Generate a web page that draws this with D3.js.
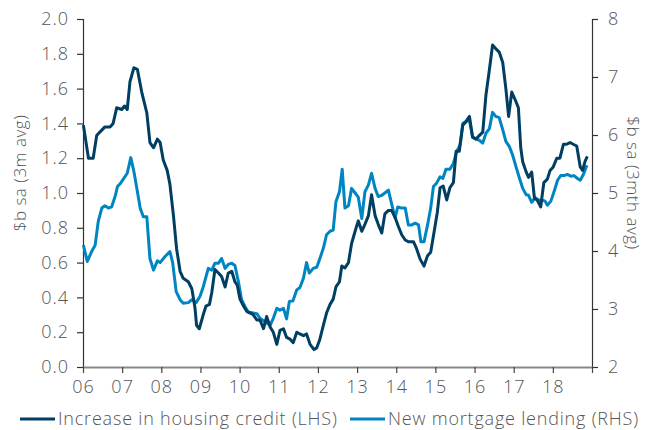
<!DOCTYPE html>
<html>
<head>
<meta charset="utf-8">
<script src="https://cdnjs.cloudflare.com/ajax/libs/d3/7.8.5/d3.min.js"></script>
<style>
  html, body { margin: 0; padding: 0; background: #fff; }
  svg { display: block; }
  text { font-family: "Open Sans", "DejaVu Sans", sans-serif; font-weight: 300; fill: #555; }
</style>
</head>
<body>
<div id="chart"></div>
<script>
// Housing credit vs new mortgage lending, 2006-2018

// [decimal year, $b sa 3m avg], LHS
const creditSeries = [
  [2006.01, 1.39], [2006.14, 1.20], [2006.26, 1.20], [2006.35, 1.33], [2006.43, 1.35],
  [2006.56, 1.38], [2006.69, 1.38], [2006.77, 1.40], [2006.86, 1.49], [2006.99, 1.48],
  [2007.06, 1.50], [2007.13, 1.48], [2007.20, 1.64], [2007.30, 1.72], [2007.39, 1.71],
  [2007.50, 1.58], [2007.63, 1.46], [2007.71, 1.29], [2007.80, 1.26], [2007.90, 1.31],
  [2007.97, 1.29], [2008.05, 1.19], [2008.15, 1.13], [2008.22, 1.05], [2008.31, 0.87],
  [2008.39, 0.68], [2008.48, 0.55], [2008.56, 0.51], [2008.69, 0.49], [2008.78, 0.45],
  [2008.86, 0.34], [2008.90, 0.24], [2008.97, 0.22], [2009.07, 0.30], [2009.14, 0.35],
  [2009.23, 0.36], [2009.29, 0.43], [2009.37, 0.56], [2009.46, 0.54], [2009.54, 0.52],
  [2009.63, 0.46], [2009.71, 0.54], [2009.80, 0.55], [2009.88, 0.49], [2009.94, 0.47],
  [2010.01, 0.39], [2010.10, 0.35], [2010.18, 0.32], [2010.27, 0.31], [2010.35, 0.30],
  [2010.44, 0.27], [2010.52, 0.27], [2010.61, 0.22], [2010.69, 0.29], [2010.78, 0.23],
  [2010.86, 0.20], [2010.95, 0.13], [2011.03, 0.21], [2011.12, 0.22], [2011.20, 0.17],
  [2011.29, 0.16], [2011.37, 0.14], [2011.46, 0.20], [2011.54, 0.19], [2011.63, 0.18],
  [2011.71, 0.19], [2011.80, 0.13], [2011.90, 0.10], [2011.97, 0.11], [2012.05, 0.16],
  [2012.14, 0.24], [2012.22, 0.31], [2012.31, 0.36], [2012.39, 0.39], [2012.46, 0.46],
  [2012.55, 0.49], [2012.61, 0.58], [2012.69, 0.57], [2012.78, 0.60], [2012.86, 0.71],
  [2012.95, 0.78], [2013.03, 0.84], [2013.12, 0.78], [2013.20, 0.82], [2013.29, 0.87],
  [2013.37, 0.99], [2013.46, 0.87], [2013.54, 0.82], [2013.63, 0.77], [2013.71, 0.88],
  [2013.80, 0.90], [2013.88, 0.90], [2013.97, 0.86], [2014.05, 0.81], [2014.14, 0.76],
  [2014.23, 0.73], [2014.31, 0.72], [2014.44, 0.72], [2014.52, 0.68], [2014.61, 0.62],
  [2014.71, 0.58], [2014.80, 0.64], [2014.88, 0.66], [2014.97, 0.78], [2015.05, 0.89],
  [2015.12, 1.03], [2015.20, 1.04], [2015.29, 0.96], [2015.37, 1.03], [2015.46, 1.06],
  [2015.53, 1.24], [2015.61, 1.24], [2015.70, 1.39], [2015.78, 1.41], [2015.87, 1.44],
  [2015.95, 1.32], [2016.04, 1.31], [2016.12, 1.33], [2016.21, 1.35], [2016.29, 1.56],
  [2016.38, 1.71], [2016.46, 1.85], [2016.54, 1.83], [2016.63, 1.81], [2016.72, 1.75],
  [2016.80, 1.60], [2016.87, 1.44], [2016.95, 1.58], [2017.03, 1.54], [2017.12, 1.49],
  [2017.18, 1.26], [2017.23, 1.18], [2017.32, 1.12], [2017.38, 1.09], [2017.46, 1.12],
  [2017.53, 0.97], [2017.60, 0.96], [2017.69, 0.92], [2017.77, 1.06], [2017.86, 1.08],
  [2017.93, 1.13], [2018.01, 1.15], [2018.10, 1.20], [2018.18, 1.20], [2018.27, 1.28],
  [2018.35, 1.28], [2018.44, 1.29], [2018.52, 1.28], [2018.61, 1.27], [2018.70, 1.15],
  [2018.76, 1.13], [2018.82, 1.18], [2018.88, 1.21]
];

// [decimal year, $b sa 3mth avg] - RHS
const lendingSeries = [
  [2006.01, 4.10], [2006.11, 3.82], [2006.22, 3.99], [2006.31, 4.10], [2006.39, 4.51],
  [2006.48, 4.74], [2006.56, 4.78], [2006.65, 4.74], [2006.73, 4.76], [2006.82, 4.94],
  [2006.88, 5.11], [2006.96, 5.17], [2007.07, 5.28], [2007.13, 5.34], [2007.22, 5.61],
  [2007.30, 5.37], [2007.39, 5.02], [2007.46, 4.74], [2007.54, 4.59], [2007.63, 4.59],
  [2007.71, 3.87], [2007.80, 3.67], [2007.90, 3.83], [2007.97, 3.80], [2008.09, 3.90],
  [2008.22, 3.99], [2008.29, 3.80], [2008.38, 3.30], [2008.48, 3.16], [2008.56, 3.10],
  [2008.69, 3.11], [2008.78, 3.16], [2008.89, 3.11], [2008.99, 3.22], [2009.07, 3.38],
  [2009.20, 3.70], [2009.29, 3.67], [2009.37, 3.79], [2009.46, 3.79], [2009.54, 3.87],
  [2009.63, 3.70], [2009.71, 3.77], [2009.80, 3.79], [2009.88, 3.75], [2009.97, 3.47],
  [2010.05, 3.16], [2010.14, 3.04], [2010.22, 2.95], [2010.35, 2.93], [2010.44, 2.92],
  [2010.52, 2.84], [2010.65, 2.78], [2010.78, 2.72], [2010.86, 2.84], [2010.95, 3.01],
  [2011.03, 2.98], [2011.12, 3.01], [2011.20, 2.83], [2011.27, 3.13], [2011.36, 3.14],
  [2011.46, 3.33], [2011.54, 3.37], [2011.63, 3.53], [2011.71, 3.80], [2011.78, 3.62],
  [2011.88, 3.70], [2011.97, 3.72], [2012.05, 3.87], [2012.14, 4.05], [2012.22, 4.28],
  [2012.31, 4.34], [2012.39, 4.36], [2012.46, 4.85], [2012.55, 5.02], [2012.62, 5.41],
  [2012.69, 4.74], [2012.78, 4.78], [2012.86, 5.08], [2012.95, 5.00], [2013.03, 4.93],
  [2013.12, 4.56], [2013.20, 5.02], [2013.29, 5.14], [2013.37, 5.34], [2013.46, 5.08],
  [2013.54, 4.94], [2013.63, 4.96], [2013.71, 5.00], [2013.80, 5.05], [2013.88, 4.82],
  [2013.97, 4.57], [2014.04, 4.76], [2014.14, 4.74], [2014.23, 4.74], [2014.31, 4.45],
  [2014.40, 4.45], [2014.48, 4.48], [2014.57, 4.45], [2014.63, 4.16], [2014.71, 4.16],
  [2014.80, 4.45], [2014.88, 4.74], [2014.95, 5.11], [2015.03, 5.17], [2015.12, 5.28],
  [2015.19, 5.25], [2015.27, 5.41], [2015.37, 5.41], [2015.46, 5.51], [2015.54, 5.71],
  [2015.63, 5.83], [2015.70, 6.20], [2015.78, 6.23], [2015.87, 6.26], [2015.95, 5.97],
  [2016.04, 5.93], [2016.12, 5.91], [2016.21, 5.86], [2016.29, 6.03], [2016.38, 6.11],
  [2016.46, 6.39], [2016.54, 6.32], [2016.63, 6.30], [2016.72, 6.09], [2016.80, 5.89],
  [2016.89, 5.80], [2016.97, 5.66], [2017.06, 5.45], [2017.15, 5.25], [2017.23, 5.08],
  [2017.32, 4.97], [2017.38, 4.96], [2017.46, 4.84], [2017.55, 4.92], [2017.63, 4.88],
  [2017.72, 4.88], [2017.80, 4.86], [2017.86, 4.79], [2017.95, 4.86], [2018.03, 5.02],
  [2018.12, 5.22], [2018.20, 5.30], [2018.29, 5.30], [2018.37, 5.32], [2018.46, 5.29],
  [2018.54, 5.30], [2018.63, 5.25], [2018.70, 5.22], [2018.78, 5.32], [2018.87, 5.48]
];

const xTickYears = d3.range(2006, 2020);          // 06 .. 19, last one unlabelled
const leftTicks = [0, 0.2, 0.4, 0.6, 0.8, 1.0, 1.2, 1.4, 1.6, 1.8, 2.0];
const rightTicks = [2, 3, 4, 5, 6, 7, 8];
const legendLabels = ['Increase in housing credit (LHS)', 'New mortgage lending (RHS)'];
const colors = ['#003f62', '#0085c3'];

const W = 646, H = 430;
const plot = { left: 83, right: 592, top: 19, bottom: 367 };

const svg = d3.select('#chart').append('svg')
  .attr('width', W)
  .attr('height', H);

const x = d3.scaleLinear().domain([2006, 2019]).range([plot.left, plot.right]);
const yL = d3.scaleLinear().domain([0, 2]).range([plot.bottom, plot.top]);
const yR = d3.scaleLinear().domain([2, 8]).range([plot.bottom, plot.top]);

const fontSize = '18px';

// axes
const leftAxis = svg.append('g')
  .attr('transform', `translate(${plot.left},0)`)
  .call(d3.axisLeft(yL).tickValues(leftTicks).tickFormat(d3.format('.1f')).tickSize(6).tickPadding(8));

const rightAxis = svg.append('g')
  .attr('transform', `translate(${plot.right},0)`)
  .call(d3.axisRight(yR).tickValues(rightTicks).tickFormat(d3.format('d')).tickSize(6).tickPadding(10));

const bottomAxis = svg.append('g')
  .attr('transform', `translate(0,${plot.bottom})`)
  .call(d3.axisBottom(x).tickValues(xTickYears)
    .tickFormat(d => d < 2019 ? String(d).slice(2) : '')
    .tickSize(6).tickSizeOuter(0).tickPadding(7));

[leftAxis, rightAxis].forEach(g => {
  g.select('.domain').attr('stroke', '#333').attr('stroke-width', 1.2);
  g.selectAll('.tick line').attr('stroke', '#333').attr('stroke-width', 1.2);
});
bottomAxis.select('.domain').attr('stroke', '#888').attr('stroke-width', 2);
bottomAxis.selectAll('.tick line').attr('stroke', '#444').attr('stroke-width', 1.2);

svg.selectAll('.tick text')
  .style('font-family', '"Open Sans", sans-serif')
  .style('font-weight', 300)
  .style('font-size', fontSize)
  .style('letter-spacing', '1px')
  .attr('fill', '#555');

// axis titles
svg.append('text')
  .attr('transform', `translate(26,${(plot.top + plot.bottom) / 2 - 20}) rotate(-90)`)
  .attr('text-anchor', 'middle')
  .style('font-size', '17px')
  .style('letter-spacing', '0.5px')
  .text('$b sa (3m avg)');

svg.append('text')
  .attr('transform', `translate(627,${(plot.top + plot.bottom) / 2 - 10}) rotate(90)`)
  .attr('text-anchor', 'middle')
  .style('font-size', '17px')
  .style('letter-spacing', '0.5px')
  .text('$b sa (3mth avg)');

// lines
const lineL = d3.line().x(d => x(d[0])).y(d => yL(d[1]));
const lineR = d3.line().x(d => x(d[0])).y(d => yR(d[1]));

svg.append('path')
  .datum(lendingSeries)
  .attr('d', lineR)
  .attr('fill', 'none')
  .attr('stroke', colors[1])
  .attr('stroke-width', 3)
  .attr('stroke-linejoin', 'round');

svg.append('path')
  .datum(creditSeries)
  .attr('d', lineL)
  .attr('fill', 'none')
  .attr('stroke', colors[0])
  .attr('stroke-width', 3)
  .attr('stroke-linejoin', 'round');

// legend
const legendY = 419;
const legendItems = [
  { x0: 20, x1: 55, tx: 58 },
  { x0: 350, x1: 385, tx: 388 }
];
legendItems.forEach((it, i) => {
  svg.append('line')
    .attr('x1', it.x0).attr('x2', it.x1)
    .attr('y1', legendY).attr('y2', legendY)
    .attr('stroke', colors[i]).attr('stroke-width', 3);
  svg.append('text')
    .attr('x', it.tx).attr('y', legendY)
    .attr('dy', '0.35em')
    .style('font-size', fontSize)
    .style('letter-spacing', '0.8px')
    .attr('fill', '#444')
    .text(legendLabels[i]);
});
</script>
</body>
</html>
